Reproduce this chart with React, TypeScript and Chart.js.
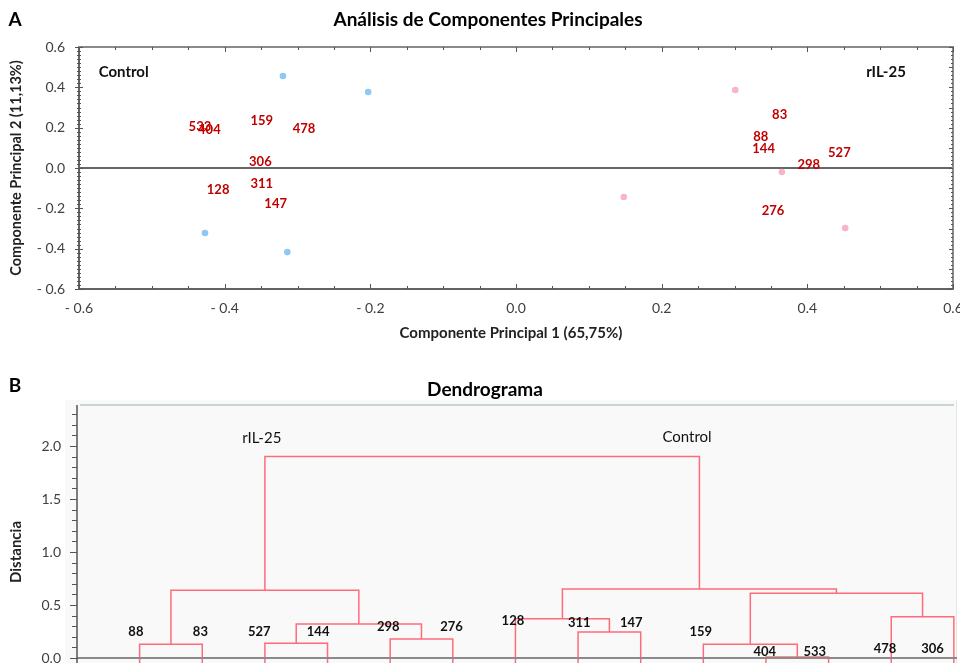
import React, { useEffect, useRef } from "react";
import { Chart, registerables } from "chart.js";
Chart.register(...registerables);

const FONT = "Lato, 'Open Sans', sans-serif";

// ---------- Panel A: PCA ----------
const controlX = [-0.32, -0.203, -0.427, -0.314];
const controlY = [0.456, 0.377, -0.322, -0.417];
const rilX = [0.301, 0.365, 0.148, 0.452];
const rilY = [0.387, -0.02, -0.144, -0.298];
const pcaLabels = ["533", "404", "159", "478", "306", "128", "311", "147", "83", "88", "144", "527", "298", "276"];
const pcaLabelX = [-0.434, -0.421, -0.349, -0.291, -0.351, -0.409, -0.349, -0.33, 0.362, 0.336, 0.34, 0.444, 0.402, 0.353];
const pcaLabelY = [0.203, 0.188, 0.233, 0.193, 0.03, -0.109, -0.08, -0.179, 0.263, 0.154, 0.094, 0.074, 0.015, -0.213];
const pcaTicks = [-0.6, -0.4, -0.2, 0, 0.2, 0.4, 0.6];
const groupNames = ["Control", "rIL-25"];
const groupX = [-0.573, 0.508];
const groupY = [0.476, 0.476];

// ---------- Panel B: Dendrogram ----------
const leafNames = ["88", "83", "527", "144", "298", "276", "128", "311", "147", "159", "404", "533", "478", "306"];
const mergeLeft = [0, 2, 4, 15, 14, 7, 6, 10, 9, 12, 22, 20, 18];
const mergeRight = [1, 3, 5, 16, 17, 8, 19, 11, 21, 13, 23, 24, 25];
const mergeHeight = [0.13, 0.14, 0.18, 0.32, 0.64, 0.245, 0.37, 0.01, 0.13, 0.39, 0.61, 0.65, 1.9];
const leafLabelX = [-0.06, 0.97, 1.91, 2.85, 3.97, 4.98, 5.96, 7.02, 7.85, 8.96, 9.98, 10.78, 11.9, 12.66];
const leafLabelY = [0.245, 0.245, 0.245, 0.245, 0.29, 0.29, 0.35, 0.33, 0.33, 0.245, 0.057, 0.057, 0.085, 0.085];
const distTicks = [0, 0.5, 1, 1.5, 2];
const clusterNames = ["rIL-25", "Control"];
const clusterX = [1.95, 8.74];
const clusterY = [2.075, 2.085];

const fmt = (v: number) => {
  if (Math.abs(v) < 1e-9) return "0.0";
  return v < 0 ? "- " + Math.abs(v).toFixed(1) : v.toFixed(1);
};

function PcaChart() {
  const ref = useRef<HTMLCanvasElement>(null);
  useEffect(() => {
    const deco = {
      id: "pcaDeco",
      beforeDatasetsDraw(chart: any) {
        const { ctx, chartArea: a, scales } = chart;
        const xs = scales.x, ys = scales.y;
        ctx.save();
        ctx.strokeStyle = "#666";
        ctx.lineWidth = 2;
        ctx.beginPath();
        const y0 = ys.getPixelForValue(0);
        ctx.moveTo(a.left, y0);
        ctx.lineTo(a.right, y0);
        ctx.stroke();
        ctx.strokeStyle = "#8a8a8a";
        ctx.lineWidth = 2;
        ctx.strokeRect(a.left, a.top, a.right - a.left, a.bottom - a.top);
        ctx.strokeStyle = "#555";
        ctx.lineWidth = 1.5;
        ctx.beginPath();
        ctx.moveTo(a.left, a.top);
        ctx.lineTo(a.left, a.bottom);
        ctx.lineTo(a.right, a.bottom);
        ctx.stroke();
        ctx.lineWidth = 1;
        ctx.strokeStyle = "#555";
        for (let i = 0; i <= 24; i++) {
          const v = -0.6 + i * 0.05;
          const px = Math.round(xs.getPixelForValue(v)) + 0.5;
          const len = i % 4 === 0 ? 5 : 3;
          ctx.beginPath();
          ctx.moveTo(px, a.bottom);
          ctx.lineTo(px, a.bottom - len);
          ctx.moveTo(px, a.top);
          ctx.lineTo(px, a.top + len);
          ctx.stroke();
        }
        for (let i = 0; i <= 60; i++) {
          const v = -0.6 + i * 0.02;
          const py = Math.round(ys.getPixelForValue(v)) + 0.5;
          const major = i % 10 === 0;
          const mid = i % 5 === 0;
          ctx.beginPath();
          ctx.moveTo(a.left - (major ? 4 : 2), py);
          ctx.lineTo(a.left + (major ? 4 : 2), py);
          ctx.moveTo(a.right, py);
          ctx.lineTo(a.right - (mid ? 4 : 2), py);
          ctx.stroke();
        }
        ctx.restore();
      },
      afterDatasetsDraw(chart: any) {
        const { ctx, scales } = chart;
        const xs = scales.x, ys = scales.y;
        ctx.save();
        ctx.textAlign = "center";
        ctx.textBaseline = "middle";
        ctx.fillStyle = "#c00000";
        ctx.font = `bold 13px ${FONT}`;
        pcaLabels.forEach((t, i) => {
          ctx.fillText(t, xs.getPixelForValue(pcaLabelX[i]), ys.getPixelForValue(pcaLabelY[i]));
        });
        ctx.fillStyle = "#111";
        ctx.font = `bold 15px ${FONT}`;
        ctx.textAlign = "left";
        ctx.fillText(groupNames[0], xs.getPixelForValue(groupX[0]), ys.getPixelForValue(groupY[0]));
        ctx.textAlign = "center";
        ctx.fillText(groupNames[1], xs.getPixelForValue(groupX[1]), ys.getPixelForValue(groupY[1]));
        ctx.fillStyle = "#000";
        ctx.font = `bold 19px ${FONT}`;
        ctx.fillText("A", 15, 20);
        ctx.fillText("Análisis de Componentes Principales", 488, 20);
        ctx.font = `bold 15px ${FONT}`;
        ctx.fillStyle = "#222";
        ctx.fillText("Componente Principal 1 (65,75%)", 511, 333);
        ctx.font = `bold 14.5px ${FONT}`;
        ctx.translate(16, 168);
        ctx.rotate(-Math.PI / 2);
        ctx.fillText("Componente Principal 2 (11,13%)", 0, 0);
        ctx.restore();
      },
    };
    const chart = new Chart(ref.current!, {
      type: "scatter",
      data: {
        datasets: [
          {
            label: "Control",
            data: controlX.map((x, i) => ({ x, y: controlY[i] })),
            backgroundColor: "#8ec8f4",
            borderWidth: 0,
            pointRadius: 3.3,
          },
          {
            label: "rIL-25",
            data: rilX.map((x, i) => ({ x, y: rilY[i] })),
            backgroundColor: "#f8b4cd",
            borderWidth: 0,
            pointRadius: 3.3,
          },
        ],
      },
      options: {
        animation: false,
        responsive: false,
        layout: { padding: { left: 0, right: 7, top: 47, bottom: 0 } },
        plugins: { legend: { display: false }, tooltip: { enabled: false }, title: { display: false } },
        scales: {
          x: {
            type: "linear",
            min: -0.6,
            max: 0.6,
            afterBuildTicks: (s: any) => {
              s.ticks = pcaTicks.map((v) => ({ value: v }));
            },
            afterFit: (s: any) => {
              s.height = 56;
              s.paddingLeft = 0;
              s.paddingRight = 0;
            },
            grid: { display: false, drawTicks: false },
            border: { display: false },
            ticks: {
              padding: 11,
              color: "#404040",
              font: { family: FONT, size: 14 },
              maxRotation: 0,
              autoSkip: false,
              callback: (v: any) => fmt(Number(v)),
            },
          },
          y: {
            type: "linear",
            min: -0.6,
            max: 0.6,
            afterBuildTicks: (s: any) => {
              s.ticks = pcaTicks.map((v) => ({ value: v }));
            },
            afterFit: (s: any) => {
              s.width = 79;
              s.paddingTop = 0;
              s.paddingBottom = 0;
            },
            grid: { display: false, drawTicks: false },
            border: { display: false },
            ticks: {
              padding: 14,
              color: "#404040",
              font: { family: FONT, size: 14 },
              autoSkip: false,
              callback: (v: any) => fmt(Number(v)),
            },
          },
        },
      },
      plugins: [deco],
    } as any);
    return () => chart.destroy();
  }, []);
  return <canvas ref={ref} width={960} height={345} style={{ display: "block" }} />;
}

function DendroChart() {
  const ref = useRef<HTMLCanvasElement>(null);
  useEffect(() => {
    const nodeX: number[] = leafNames.map((_, i) => i);
    const nodeY: number[] = leafNames.map(() => -0.1);
    const datasets = mergeHeight.map((h, k) => {
      const l = mergeLeft[k], r = mergeRight[k];
      const data = [
        { x: nodeX[l], y: nodeY[l] },
        { x: nodeX[l], y: h },
        { x: nodeX[r], y: h },
        { x: nodeX[r], y: nodeY[r] },
      ];
      nodeX[leafNames.length + k] = (nodeX[l] + nodeX[r]) / 2;
      nodeY[leafNames.length + k] = h;
      return {
        data,
        borderColor: "#ff6b7b",
        borderWidth: 1.5,
        pointRadius: 0,
        tension: 0,
        showLine: true,
        fill: false,
      };
    });
    const deco = {
      id: "dendroDeco",
      beforeDraw(chart: any) {
        const { ctx, chartArea: a } = chart;
        ctx.save();
        ctx.fillStyle = "#f9f9f9";
        ctx.fillRect(65, a.top - 5, a.right - 65, a.bottom - a.top + 5);
        ctx.strokeStyle = "#c7d6d3";
        ctx.lineWidth = 2;
        ctx.beginPath();
        ctx.moveTo(80, a.top);
        ctx.lineTo(a.right - 3, a.top);
        ctx.stroke();
        ctx.strokeStyle = "#e4e4e4";
        ctx.lineWidth = 1;
        ctx.beginPath();
        ctx.moveTo(a.right - 0.5, a.top - 5);
        ctx.lineTo(a.right - 0.5, a.bottom);
        ctx.stroke();
        ctx.restore();
      },
      afterDatasetsDraw(chart: any) {
        const { ctx, chartArea: a, scales } = chart;
        const xs = scales.x, ys = scales.y;
        ctx.save();
        ctx.strokeStyle = "#8a8a8a";
        ctx.lineWidth = 2;
        const y0 = ys.getPixelForValue(0);
        ctx.beginPath();
        ctx.moveTo(a.left, y0);
        ctx.lineTo(a.right, y0);
        ctx.stroke();
        ctx.strokeStyle = "#555";
        ctx.lineWidth = 1.5;
        ctx.beginPath();
        ctx.moveTo(a.left, a.top);
        ctx.lineTo(a.left, a.bottom);
        ctx.stroke();
        ctx.lineWidth = 1;
        for (let i = 0; i <= 23; i++) {
          const v = i * 0.1;
          const py = Math.round(ys.getPixelForValue(v)) + 0.5;
          const len = i % 5 === 0 ? 7 : 5;
          ctx.beginPath();
          ctx.moveTo(a.left - len, py);
          ctx.lineTo(a.left, py);
          ctx.stroke();
        }
        ctx.textAlign = "center";
        ctx.textBaseline = "middle";
        ctx.fillStyle = "#111";
        ctx.font = `bold 13px ${FONT}`;
        leafNames.forEach((t, i) => {
          ctx.fillText(t, xs.getPixelForValue(leafLabelX[i]), ys.getPixelForValue(leafLabelY[i]));
        });
        ctx.font = `15px ${FONT}`;
        clusterNames.forEach((t, i) => {
          ctx.fillText(t, xs.getPixelForValue(clusterX[i]), ys.getPixelForValue(clusterY[i]));
        });
        ctx.fillStyle = "#000";
        ctx.font = `bold 19px ${FONT}`;
        ctx.fillText("B", 15, 41);
        ctx.fillText("Dendrograma", 485, 45);
        ctx.font = `bold 15px ${FONT}`;
        ctx.fillStyle = "#222";
        ctx.translate(16, 207);
        ctx.rotate(-Math.PI / 2);
        ctx.fillText("Distancia", 0, 0);
        ctx.restore();
      },
    };
    const chart = new Chart(ref.current!, {
      type: "scatter",
      data: { datasets },
      options: {
        animation: false,
        responsive: false,
        layout: { padding: { left: 0, right: 3, top: 60, bottom: 0 } },
        plugins: { legend: { display: false }, tooltip: { enabled: false }, title: { display: false } },
        scales: {
          x: { type: "linear", min: -1, max: 13.05, display: false },
          y: {
            type: "linear",
            min: -0.047,
            max: 2.387,
            afterBuildTicks: (s: any) => {
              s.ticks = distTicks.map((v) => ({ value: v }));
            },
            afterFit: (s: any) => {
              s.width = 77;
              s.paddingTop = 0;
              s.paddingBottom = 0;
            },
            grid: { display: false, drawTicks: false },
            border: { display: false },
            ticks: {
              padding: 16,
              color: "#404040",
              font: { family: FONT, size: 14 },
              autoSkip: false,
              callback: (v: any) => Number(v).toFixed(1),
            },
          },
        },
      },
      plugins: [deco],
    } as any);
    return () => chart.destroy();
  }, []);
  return <canvas ref={ref} width={960} height={318} style={{ display: "block" }} />;
}

export default function App() {
  return (
    <div style={{ position: "absolute", left: 0, top: 0, width: 960, height: 663, background: "#fff", overflow: "hidden" }}>
      <PcaChart />
      <DendroChart />
    </div>
  );
}
